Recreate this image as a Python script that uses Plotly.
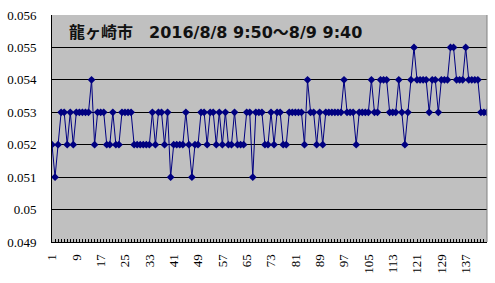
import plotly.graph_objects as go

# 10-minute readings (μSv/h), 144 samples, 2016/8/8 9:50 - 8/9 9:40
values = [
    0.052, 0.051, 0.052, 0.053, 0.053, 0.052, 0.053, 0.052, 0.053, 0.053,
    0.053, 0.053, 0.053, 0.054, 0.052, 0.053, 0.053, 0.053, 0.052, 0.052,
    0.053, 0.052, 0.052, 0.053, 0.053, 0.053, 0.053, 0.052, 0.052, 0.052,
    0.052, 0.052, 0.052, 0.053, 0.052, 0.053, 0.053, 0.052, 0.053, 0.051,
    0.052, 0.052, 0.052, 0.052, 0.053, 0.052, 0.051, 0.052, 0.052, 0.053,
    0.053, 0.052, 0.053, 0.053, 0.052, 0.053, 0.052, 0.053, 0.052, 0.052,
    0.053, 0.052, 0.052, 0.052, 0.053, 0.053, 0.051, 0.053, 0.053, 0.053,
    0.052, 0.052, 0.053, 0.052, 0.053, 0.053, 0.052, 0.052, 0.053, 0.053,
    0.053, 0.053, 0.053, 0.052, 0.054, 0.053, 0.053, 0.052, 0.053, 0.052,
    0.053, 0.053, 0.053, 0.053, 0.053, 0.053, 0.054, 0.053, 0.053, 0.053,
    0.052, 0.053, 0.053, 0.053, 0.053, 0.054, 0.053, 0.053, 0.054, 0.054,
    0.054, 0.053, 0.053, 0.053, 0.054, 0.053, 0.052, 0.053, 0.054, 0.055,
    0.054, 0.054, 0.054, 0.054, 0.053, 0.054, 0.054, 0.053, 0.054, 0.054,
    0.054, 0.055, 0.055, 0.054, 0.054, 0.054, 0.055, 0.054, 0.054, 0.054,
    0.054, 0.053, 0.053, 0.053,
]
categories = list(range(1, len(values) + 1))
x_tick_labels = [str(v) for v in range(1, 145, 8)]
y_tick_values = [0.049, 0.050, 0.051, 0.052, 0.053, 0.054, 0.055, 0.056]
y_tick_labels = ["0.049", "0.05", "0.051", "0.052", "0.053", "0.054", "0.055", "0.056"]
title_text = "龍ヶ崎市　2016/8/8 9:50～8/9 9:40"

fig = go.Figure()
fig.add_trace(go.Scatter(
    x=categories, y=values, mode="lines+markers",
    line=dict(color="#000080", width=1),
    marker=dict(symbol="diamond", size=6, color="#000080"),
    showlegend=False, hoverinfo="skip",
))

fig.update_layout(
    width=495, height=283,
    margin=dict(l=52, r=8, t=15, b=41),
    paper_bgcolor="white", plot_bgcolor="#C0C0C0",
    font=dict(family="Liberation Serif", size=13, color="black"),
    xaxis=dict(
        range=[1, 144], tickmode="array",
        tickvals=[int(t) for t in x_tick_labels], ticktext=x_tick_labels,
        tickangle=-90, ticks="inside", ticklen=3, tickcolor="black",
        minor=dict(dtick=1, tick0=1, ticks="inside", ticklen=3, tickcolor="black"),
        showgrid=False, zeroline=False,
        showline=True, linecolor="black", linewidth=1,
        ticklabelstandoff=6,
    ),
    yaxis=dict(
        range=[0.049, 0.056], tickmode="array",
        tickvals=y_tick_values, ticktext=y_tick_labels,
        showgrid=True, gridcolor="black", gridwidth=1,
        zeroline=False, showline=True, linecolor="black", linewidth=1,
        ticks="", ticklabelstandoff=12,
    ),
    shapes=[dict(type="line", xref="paper", yref="paper", x0=1, x1=1, y0=0, y1=1,
                 line=dict(color="#808080", width=1))],
    annotations=[dict(
        text="<b>" + title_text + "</b>", xref="paper", yref="paper",
        x=0.035, y=0.925, xanchor="left", yanchor="middle", showarrow=False,
        font=dict(family="DejaVu Sans, Noto Sans CJK JP", size=16, color="#111111"),
    )],
)

fig.write_html("out.html")
